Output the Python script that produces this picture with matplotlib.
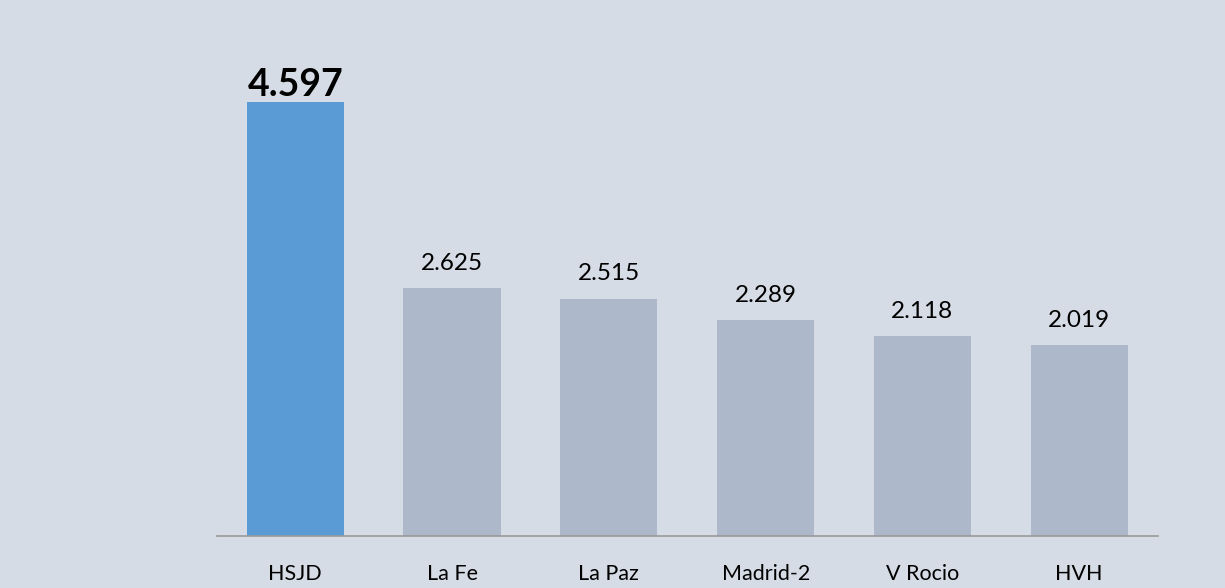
import matplotlib.pyplot as plt

hospitals = ["HSJD", "La Fe", "La Paz", "Madrid-2", "V Rocio", "HVH"]
values = [4.597, 2.625, 2.515, 2.289, 2.118, 2.019]
labels = ["4.597", "2.625", "2.515", "2.289", "2.118", "2.019"]

bg = "#D6DCE5"
colors = ["#5B9BD5"] + ["#ADB9CA"] * (len(values) - 1)

plt.rcParams['font.family'] = ['Lato', 'DejaVu Sans']

fig = plt.figure(figsize=(12.25, 5.88), dpi=100, facecolor=bg)
ax = fig.add_axes([0.177, 0.0884, 0.768, 0.803], facecolor=bg)

x = list(range(len(values)))
bars = ax.bar(x, values, width=0.62, color=colors)

for i, (v, t) in enumerate(zip(values, labels)):
    if i == 0:
        ax.text(i, v, t, ha="center", va="bottom", fontsize=27, fontweight="bold")
    else:
        ax.text(i, v + 0.15, t, ha="center", va="bottom", fontsize=17.5)

ax.set_xlim(-0.5, len(values) - 0.5)
ax.set_ylim(0, 5)
ax.set_xticks(x)
ax.set_xticklabels(hospitals, fontsize=15.5)
ax.tick_params(axis="x", length=0, pad=20)
ax.set_yticks([])
for s in ["top", "right", "left"]:
    ax.spines[s].set_visible(False)
ax.spines["bottom"].set_color("#999999")
ax.spines["bottom"].set_linewidth(1.2)

fig.savefig("out.png", dpi=100, facecolor=bg)
